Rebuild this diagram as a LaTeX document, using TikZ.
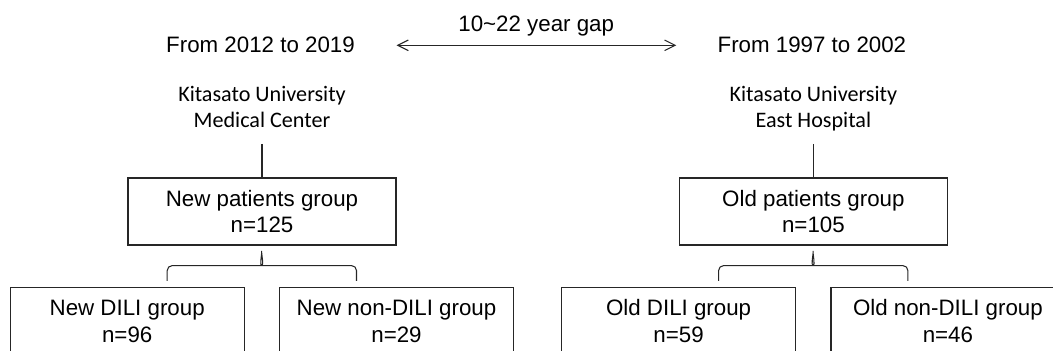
\documentclass[tikz,border=0pt]{standalone}
\usepackage{fontspec}
\setmainfont{Liberation Sans}
\newfontfamily\sitefont{Carlito}
\usetikzlibrary{arrows.meta}

\tikzset{
  period/.style={inner sep=0pt,font=\fontsize{12.7}{15.3}\selectfont},
  site/.style={inner sep=0pt,align=center,text depth=0pt,
    font=\sitefont\fontsize{12.6}{15}\selectfont},
  group/.style={draw=black!85,line width=0.7pt,minimum width=5.36cm,
    minimum height=1.34cm,inner sep=0pt,align=center,
    font=\fontsize{12.7}{15.3}\selectfont},
  subgroup/.style={group,minimum width=4.68cm},
  link/.style={draw=black!85,line width=0.6pt},
  split/.style={link,rounded corners=0.1cm}
}

\begin{document}
\begin{tikzpicture}[x=0.02cm,y=0.02cm]

    \path[use as bounding box] (0,0) rectangle (1053,351);
    \clip (0,0) rectangle (1053,351);

    % Gruppo nuovo
    \begin{scope}
        \node[period,anchor=base] (newperiod) at (260.5,298) {From 2012 to 2019};
        \node[site,anchor=south] (newsite) at (262,223)
            {Kitasato University\\Medical Center};
        \node[group] (newgroup) at (262,139.5) {New patients group\\n=125};
        \node[subgroup] (newdili) at (127.2,30) {New DILI group\\n=96};
        \node[subgroup] (newnondili) at (396.5,30) {New non-DILI group\\n=29};
        \draw[link,shorten <=0.32cm] (newsite) -- (newgroup);
        % parentesi
        \draw[split] ([xshift=0.8cm,yshift=0.12cm]newdili.north)
            -- ++(0,15.3) -- ++(89.5,0)
            to[out=0,in=-90] ++(5,17.7)
            to[out=-90,in=180] ++(5,-17.7)
            -| ([xshift=-0.8cm,yshift=0.12cm]newnondili.north);
    \end{scope}

    % Gruppo vecchio
    \begin{scope}[xshift=11.03cm]
        \node[period,anchor=base] (oldperiod) at (260.5,298) {From 1997 to 2002};
        \node[site,anchor=south] (oldsite) at (262,223)
            {Kitasato University\\East Hospital};
        \node[group] (oldgroup) at (262,139.5) {Old patients group\\n=105};
        \node[subgroup] (olddili) at (127.2,30) {Old DILI group\\n=59};
        \node[subgroup] (oldnondili) at (396.5,30) {Old non-DILI group\\n=46};
        \draw[link,shorten <=0.32cm] (oldsite) -- (oldgroup);
        % parentesi
        \draw[split] ([xshift=0.8cm,yshift=0.12cm]olddili.north)
            -- ++(0,15.3) -- ++(89.5,0)
            to[out=0,in=-90] ++(5,17.7)
            to[out=-90,in=180] ++(5,-17.7)
            -| ([xshift=-0.8cm,yshift=0.12cm]oldnondili.north);
    \end{scope}

    % Intervallo
    \draw[link,{Straight Barb[length=6pt,width=6pt]}-{Straight Barb[length=6pt,width=6pt]},
        shorten <=0.83cm,shorten >=0.82cm] (newperiod.east) -- (oldperiod.west)
        node[period,midway,above=4.9pt] (gap) {10\textasciitilde 22 year gap};

\end{tikzpicture}
\end{document}
